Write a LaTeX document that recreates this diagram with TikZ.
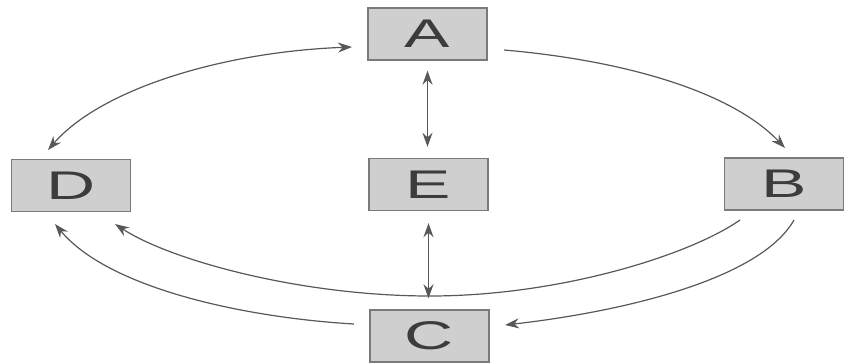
\documentclass[tikz,border=0pt]{standalone}
\usepackage{fontspec}
\newfontfamily\boxfont[FakeStretch=1.7]{Liberation Sans}
\usetikzlibrary{arrows.meta}
\definecolor{boxfill}{HTML}{CFCFCF}
\definecolor{boxline}{HTML}{7A7A7A}
\definecolor{arrowc}{HTML}{585858}
\definecolor{textc}{HTML}{3C3C3C}
\begin{document}
\begin{tikzpicture}[x=1pt,y=-1pt,
  boxnode/.style={draw=boxline, line width=1.4pt, fill=boxfill, rectangle,
    minimum width=119pt, minimum height=52pt, inner sep=0pt,
    text=textc, font=\boxfont\fontsize{40}{40}\selectfont},
  conn/.style={draw=arrowc, line width=1.2pt, -{Stealth[length=14pt,width=10pt]}},
  dconn/.style={draw=arrowc, line width=1.2pt, {Stealth[length=14pt,width=10pt]}-{Stealth[length=14pt,width=10pt]}}]
\useasboundingbox (0,0) rectangle (844,364);
\node[boxnode] (A) at (427.5,34) {A};
\node[boxnode] (D) at (71,185.5) {D};
\node[boxnode] (E) at (428.5,184.5) {E};
\node[boxnode] (B) at (784,184) {B};
\node[boxnode] (C) at (429.5,336) {C};
% endpoints
\coordinate (ad1) at (352,47);
\coordinate (ad2) at (48,150);
\coordinate (ab1) at (504,50);
\coordinate (ab2) at (785,148);
\coordinate (cd1) at (354,324);
\coordinate (cd2) at (55,224);
\coordinate (bd1) at (740,220);
\coordinate (bd2) at (115,224);
\coordinate (bc1) at (794,220);
\coordinate (bc2) at (505,325);
% connectors
\draw[dconn] (ad1) .. controls (220,52) and (100,90) .. (ad2);
\draw[conn] (ab1) .. controls (620,60) and (730,90) .. (ab2);
\draw[conn] (cd1) .. controls (250,318) and (110,290) .. (cd2);
\draw[conn] (bd1) .. controls (690,255) and (560,296) .. (430,296) .. controls (300,296) and (170,260) .. (bd2);
\draw[conn] (bc1) .. controls (760,280) and (620,312) .. (bc2);
\draw[dconn, shorten <=10pt, shorten >=11pt] (A.south) -- (A.south |- E.north);
\draw[dconn, shorten <=12pt, shorten >=11pt] (E.south) -- (E.south |- C.north);
\end{tikzpicture}
\end{document}
